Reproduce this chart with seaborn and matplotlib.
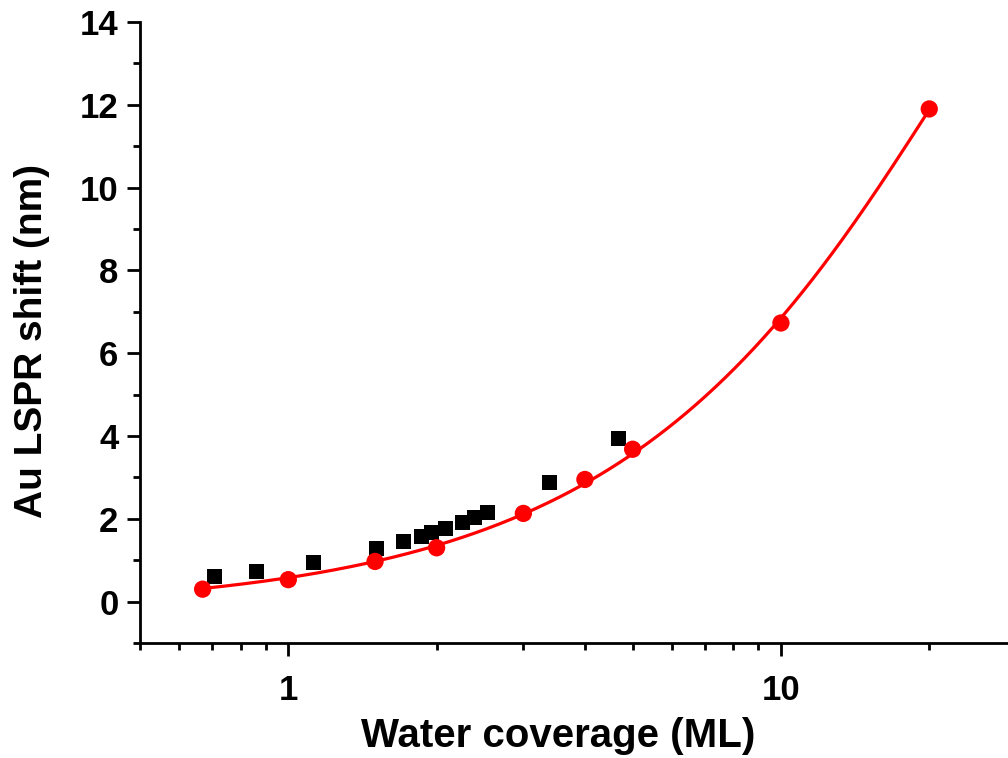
import numpy as np
import pandas as pd
import matplotlib
matplotlib.use("Agg")
import matplotlib.pyplot as plt
from matplotlib.ticker import LogLocator, FixedLocator, NullFormatter, FuncFormatter
import seaborn as sns

# Measured LSPR shift vs. water coverage (black squares)
exp_coverage = [0.707, 0.861, 1.124, 1.51, 1.713, 1.864, 1.953, 2.085, 2.258, 2.388, 2.539, 3.393, 4.686]
exp_shift = [0.60, 0.72, 0.94, 1.28, 1.45, 1.57, 1.67, 1.76, 1.91, 2.03, 2.15, 2.87, 3.93]

# Simulated LSPR shift (red circles)
sim_coverage = [0.67, 1.0, 1.5, 2.0, 3.0, 4.0, 5.0, 10.0, 20.0]
sim_shift = [0.30, 0.53, 0.97, 1.30, 2.13, 2.95, 3.68, 6.73, 11.90]

y_ticks = [0, 2, 4, 6, 8, 10, 12, 14]

sns.set_style("ticks")
plt.rcParams["font.family"] = ["Liberation Sans", "DejaVu Sans"]
plt.rcParams["font.weight"] = "bold"
for key in ("text.color", "axes.labelcolor", "xtick.color", "ytick.color", "axes.edgecolor"):
    plt.rcParams[key] = "black"

fig = plt.figure(figsize=(10.08, 7.58), dpi=100)
ax = fig.add_axes([140 / 1008, 1 - 643 / 758, (1016 - 140) / 1008, (643 - 22) / 758])

exp_df = pd.DataFrame({"coverage": exp_coverage, "shift": exp_shift})
sim_df = pd.DataFrame({"coverage": sim_coverage, "shift": sim_shift})

# Quadratic fit of the simulated points, drawn as a smooth curve
coef = np.polyfit(sim_coverage, sim_shift, 2)
fit_x = np.geomspace(min(sim_coverage), max(sim_coverage), 300)
fit_df = pd.DataFrame({"coverage": fit_x, "shift": np.polyval(coef, fit_x)})

sns.scatterplot(data=exp_df, x="coverage", y="shift", marker="s", s=118,
                color="black", edgecolor="none", ax=ax, zorder=2)
sns.lineplot(data=fit_df, x="coverage", y="shift", color="red", lw=2.3,
             ax=ax, zorder=3)
sns.scatterplot(data=sim_df, x="coverage", y="shift", marker="o", s=155,
                color="red", edgecolor="none", ax=ax, zorder=4)

ax.set_xscale("log")
ax.set_xlim(0.5, 30)
ax.set_ylim(-1, 14)

ax.xaxis.set_major_locator(FixedLocator([1, 10]))
ax.xaxis.set_major_formatter(FuncFormatter(lambda v, p: f"{v:g}"))
ax.xaxis.set_minor_locator(LogLocator(base=10, subs=np.arange(2, 10), numticks=20))
ax.xaxis.set_minor_formatter(NullFormatter())
ax.yaxis.set_major_locator(FixedLocator(y_ticks))
ax.yaxis.set_minor_locator(FixedLocator([-1, 1, 3, 5, 7, 9, 11, 13]))

for side in ("top", "right"):
    ax.spines[side].set_visible(False)
for side in ("left", "bottom"):
    ax.spines[side].set_linewidth(2.0)

ax.tick_params(which="major", direction="out", length=9.5, width=2.0, labelsize=25)
ax.tick_params(which="minor", direction="out", length=5, width=2.0)
ax.tick_params(axis="x", which="major", pad=13)
ax.tick_params(axis="y", which="major", pad=6)
for lab in ax.get_xticklabels() + ax.get_yticklabels():
    lab.set_fontweight("bold")

ax.set_xlabel("Water coverage (ML)", fontsize=29, fontweight="bold")
ax.set_ylabel("Au LSPR shift (nm)", fontsize=28, fontweight="bold")
ax.xaxis.set_label_coords((558 - 140) / 876, -(717 - 643) / 621)
ax.yaxis.set_label_coords(-(140 - 50) / 876, (643 - 341) / 621)

fig.savefig("out.png", dpi=100)
